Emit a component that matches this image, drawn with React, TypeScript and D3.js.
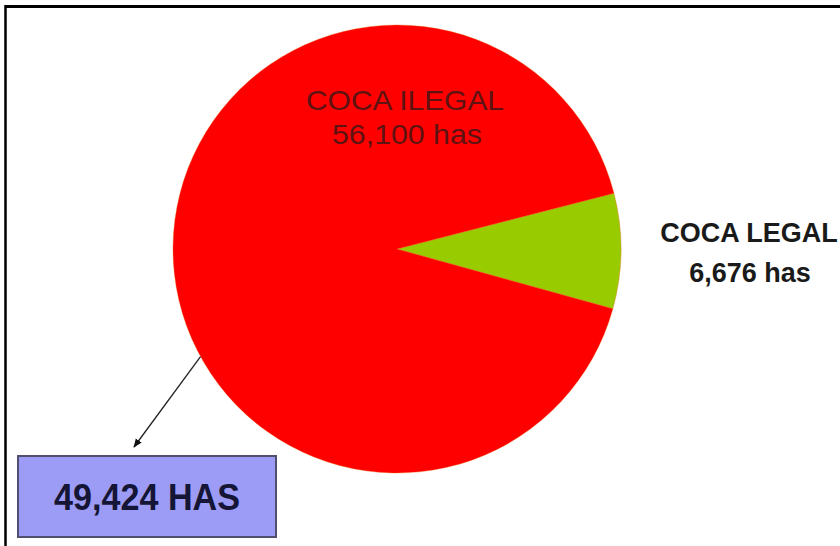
import React from "react";
import * as d3 from "d3";

const categories = ["COCA LEGAL", "COCA ILEGAL"];
// shares as drawn in the picture (percent of the circle)
const pieShares = [8.3, 91.7];
const areaLabels = ["6,676 has", "56,100 has"];
const calloutLabel = "49,424 HAS";
const colors = ["#99cc00", "#ff0000"];

const W = 840;
const H = 546;
const cx = 397;
const cy = 249;
const R = 224;

export default function App() {
  const startDeg = 75.6;
  const pie = d3
    .pie<number>()
    .sort(null)
    .value((d) => d)
    .startAngle((startDeg * Math.PI) / 180)
    .endAngle((startDeg * Math.PI) / 180 + 2 * Math.PI);
  const arcs = pie(pieShares);
  const arc = d3.arc<d3.PieArcDatum<number>>().innerRadius(0).outerRadius(R);

  // arrow from the pie edge to the callout box
  const a = (241.3 * Math.PI) / 180;
  const x0 = cx + R * Math.sin(a);
  const y0 = cy - R * Math.cos(a);
  const x1 = 134;
  const y1 = 447;

  return (
    <svg
      width={W}
      height={H}
      style={{ position: "absolute", left: 0, top: 0, display: "block", background: "#fff" }}
      fontFamily="'Liberation Sans', Arial, sans-serif"
    >
      <defs>
        <marker id="ah" viewBox="0 0 10 10" refX="9" refY="5" markerWidth="9" markerHeight="9" markerUnits="userSpaceOnUse" orient="auto">
          <path d="M0,1 L10,5 L0,9 Z" fill="#111" />
        </marker>
      </defs>
      <line x1={5} y1={6.5} x2={W} y2={6.5} stroke="#000" strokeWidth={3} />
      <line x1={5.5} y1={5} x2={5.5} y2={H} stroke="#000" strokeWidth={2.5} />

      <g transform={`translate(${cx},${cy})`}>
        {arcs.map((d, i) => (
          <path key={categories[i]} d={arc(d) || ""} fill={colors[i]} stroke="#e8600a" strokeWidth={0.6} strokeOpacity={0.6} />
        ))}
      </g>

      <text x={405} y={110} textAnchor="middle" fontSize={28} fill="#5e1212" textLength={198} lengthAdjust="spacingAndGlyphs">
        {categories[1]}
      </text>
      <text x={407} y={144} textAnchor="middle" fontSize={27} fill="#5e1212" textLength={150} lengthAdjust="spacingAndGlyphs">
        {areaLabels[1]}
      </text>

      <text x={749} y={242} textAnchor="middle" fontSize={27} fontWeight="bold" fill="#1a1a1a">
        {categories[0]}
      </text>
      <text x={750} y={282} textAnchor="middle" fontSize={27} fontWeight="bold" fill="#1a1a1a">
        {areaLabels[0]}
      </text>

      <line x1={x0} y1={y0} x2={x1} y2={y1} stroke="#222" strokeWidth={1.3} markerEnd="url(#ah)" />

      <rect x={18} y={456} width={258} height={81} fill="#9c9cf7" stroke="#50506e" strokeWidth={2} />
      <text x={147} y={510} textAnchor="middle" fontSize={36} fontWeight="bold" fill="#151535" textLength={186} lengthAdjust="spacingAndGlyphs">
        {calloutLabel}
      </text>
    </svg>
  );
}
